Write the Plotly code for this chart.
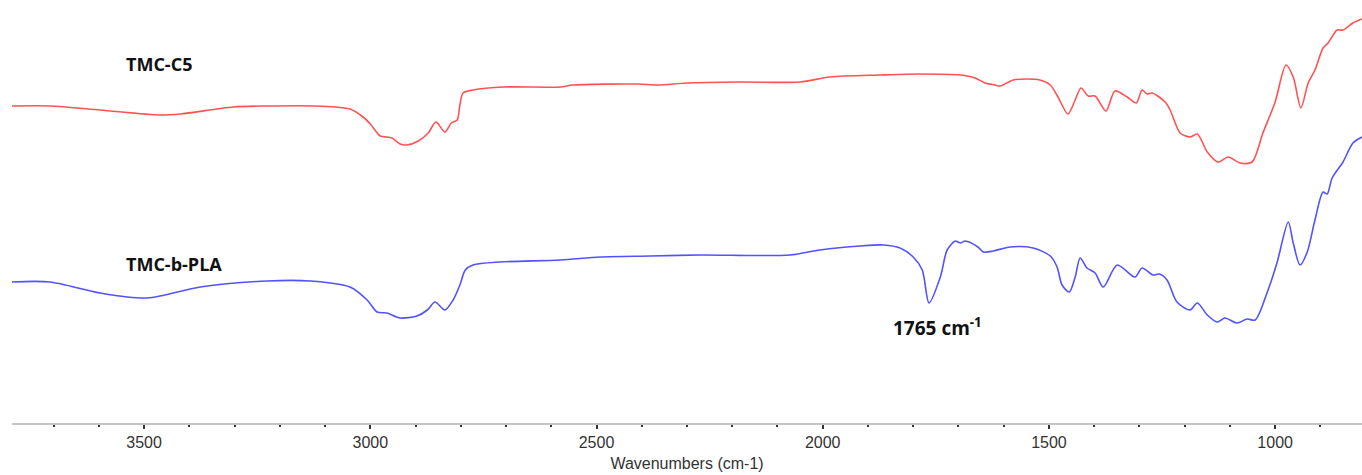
import plotly.graph_objects as go

# TMC-C5 spectrum (wavenumber cm-1, transmittance a.u.)
c5_wn = [3792, 3708, 3597, 3465, 3420, 3303, 3228, 3118, 3045, 3016, 3000, 2978, 2963, 2952,
         2934, 2919, 2894, 2872, 2855, 2835, 2821, 2808, 2802, 2795, 2773, 2706, 2580, 2552,
         2410, 2364, 2300, 2183, 2050, 1984, 1873, 1785, 1696, 1663, 1641, 1619, 1608, 1579,
         1548, 1520, 1497, 1480, 1458, 1442, 1429, 1413, 1398, 1374, 1354, 1327, 1307, 1294,
         1283, 1272, 1243, 1232, 1210, 1188, 1172, 1150, 1126, 1104, 1077, 1051, 1027, 1000,
         976, 960, 943, 927, 912, 894, 883, 863, 850, 828, 808]
c5_t = [317, 317, 313, 308, 309, 316, 317, 317, 314, 306, 299, 287, 286, 285,
        279, 278, 282, 290, 301, 291, 300, 303, 318, 330, 333, 336, 336, 338,
        339, 338, 340, 341, 341, 346, 348, 349, 348, 345, 340, 338, 337, 343,
        344, 343, 338, 326, 309, 323, 335, 327, 327, 312, 332, 326, 320, 333,
        329, 330, 321, 313, 290, 286, 289, 271, 261, 266, 260, 261, 290, 321,
        358, 346, 315, 340, 353, 375, 380, 393, 393, 400, 404]

# TMC-b-PLA spectrum
pla_wn = [3792, 3708, 3597, 3493, 3376, 3228, 3133, 3045, 3007, 2985, 2963, 2934, 2897, 2874,
          2857, 2835, 2817, 2802, 2790, 2773, 2713, 2580, 2492, 2381, 2271, 2072, 2006, 1917,
          1866, 1829, 1800, 1780, 1765, 1740, 1725, 1707, 1696, 1685, 1657, 1645, 1623, 1586,
          1535, 1497, 1482, 1471, 1455, 1442, 1431, 1416, 1398, 1380, 1349, 1310, 1294, 1270,
          1256, 1239, 1217, 1188, 1172, 1150, 1128, 1111, 1084, 1062, 1044, 1018, 996, 971,
          960, 945, 929, 912, 894, 885, 874, 850, 828, 808]
pla_t = [141, 141, 130, 125, 136, 142, 142, 136, 123, 111, 110, 105, 107, 113,
         121, 113, 123, 138, 153, 158, 161, 163, 166, 167, 168, 168, 173, 177,
         178, 175, 166, 153, 120, 146, 173, 182, 180, 182, 176, 171, 172, 176,
         175, 167, 156, 138, 131, 146, 165, 155, 150, 136, 158, 146, 155, 148,
         149, 143, 121, 113, 120, 108, 101, 105, 100, 104, 103, 130, 160, 201,
         180, 158, 171, 203, 231, 229, 245, 261, 280, 286]

tick_vals = [3500, 3000, 2500, 2000, 1500, 1000]
tick_text = ["3500", "3000", "2500", "2000", "1500", "1000"]

fig = go.Figure()
fig.add_trace(go.Scatter(x=c5_wn, y=c5_t, mode="lines", name="TMC-C5",
                         line=dict(color="#ff5252", width=1.6, shape="spline", smoothing=0.8)))
fig.add_trace(go.Scatter(x=pla_wn, y=pla_t, mode="lines", name="TMC-b-PLA",
                         line=dict(color="#5252ff", width=1.6, shape="spline", smoothing=0.8)))

lab_font = dict(family="Open Sans", size=18, color="#111111")
fig.add_annotation(x=3545, y=359, xref="x", yref="y", text="<b>TMC-C5</b>", showarrow=False,
                   xanchor="left", yanchor="middle", font=lab_font)
fig.add_annotation(x=3545, y=159, xref="x", yref="y", text="<b>TMC-b-PLA</b>", showarrow=False,
                   xanchor="left", yanchor="middle", font=lab_font)
fig.add_annotation(x=1848, y=96, xref="x", yref="y", text="<b>1765 cm<sup>-1</sup></b>",
                   showarrow=False, xanchor="left", yanchor="middle",
                   font=dict(family="Open Sans", size=19, color="#111111"))

fig.update_layout(
    width=1362, height=475,
    margin=dict(l=12, r=0, t=0, b=52),
    plot_bgcolor="white", paper_bgcolor="white",
    showlegend=False,
    xaxis=dict(
        range=[3792, 808], tickvals=tick_vals, ticktext=tick_text,
        showgrid=False, zeroline=False,
        showline=True, linecolor="#c4c4c4", linewidth=2,
        ticks="outside", ticklen=4, tickwidth=1.5, tickcolor="#333333",
        minor=dict(dtick=100, tick0=0, ticks="outside", ticklen=2, tickwidth=1.5,
                   tickcolor="#333333", showgrid=False),
        tickfont=dict(family="Liberation Sans", size=16, color="#333333"),
        title=dict(text="Wavenumbers (cm-1)", standoff=8,
                   font=dict(family="Liberation Sans", size=16, color="#333333")),
    ),
    yaxis=dict(range=[0, 423], visible=False, fixedrange=True),
)

fig.write_html("out.html", config={"displayModeBar": False},
               post_script="document.body.style.margin='0';")
